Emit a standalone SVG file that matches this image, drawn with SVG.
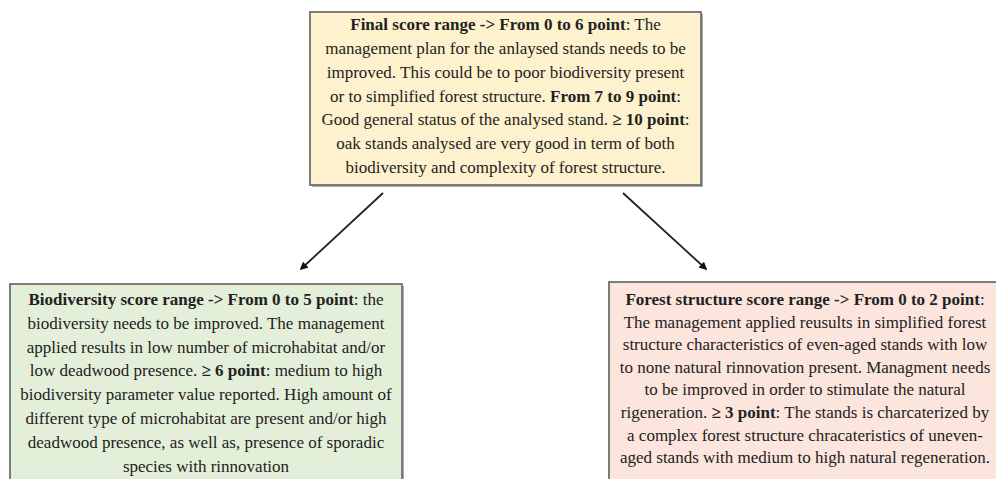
<svg xmlns="http://www.w3.org/2000/svg" width="996" height="479" viewBox="0 0 996 479">
  <style>
    .box { stroke: #707070; stroke-width: 1.8; }
    .shadow { fill: #a8a8a8; }
    .txt { font-family: "Liberation Serif", "Times New Roman", "DejaVu Serif", serif; font-size: 17px; fill: #222; text-anchor: middle; }
    .b { font-weight: bold; }
    .edge { stroke: #222; stroke-width: 1.8; fill: none; marker-end: url(#arrow); }
  </style>
  <defs>
    <marker id="arrow" viewBox="0 0 10 10" refX="8" refY="5" markerWidth="4.5" markerHeight="4.5" orient="auto" markerUnits="strokeWidth">
      <path d="M0,0 L10,5 L0,10 z" fill="#111"/>
    </marker>
  </defs>
  <rect width="996" height="479" fill="#ffffff"/>

  <!-- top summary node -->
  <g id="final-score">
    <rect class="shadow" x="312" y="14" width="391" height="173"/>
    <rect class="box" x="310" y="12" width="391" height="173" fill="#fdf2cd"/>
    <text class="txt" x="505.5" y="30"><tspan class="b">Final score range -&gt; From 0 to 6 point</tspan>: The</text>
    <text class="txt" x="505.5" y="54">management plan for the anlaysed stands needs to be</text>
    <text class="txt" x="505.5" y="78">improved. This could be to poor biodiversity present</text>
    <text class="txt" x="505.5" y="101.5">or to simplified forest structure. <tspan class="b">From 7 to 9 point</tspan>:</text>
    <text class="txt" x="505.5" y="125">Good general status of the analysed stand. <tspan class="b">≥ 10 point</tspan>:</text>
    <text class="txt" x="505.5" y="149">oak stands analysed are very good in term of both</text>
    <text class="txt" x="505.5" y="173">biodiversity and complexity of forest structure.</text>
  </g>

  <!-- biodiversity node -->
  <g id="biodiversity-score">
    <rect class="shadow" x="12" y="286" width="392" height="200"/>
    <rect class="box" x="10" y="284" width="392" height="200" fill="#e4efd9"/>
    <text class="txt" x="206" y="305"><tspan class="b">Biodiversity score range -&gt; From 0 to 5 point</tspan>: the</text>
    <text class="txt" x="206" y="328.8">biodiversity needs to be improved. The management</text>
    <text class="txt" x="206" y="352.6">applied results in low number of microhabitat and/or</text>
    <text class="txt" x="206" y="376.4">low deadwood presence. <tspan class="b">≥ 6 point</tspan>: medium to high</text>
    <text class="txt" x="206" y="400.2">biodiversity parameter value reported. High amount of</text>
    <text class="txt" x="206" y="424">different type of microhabitat are present and/or high</text>
    <text class="txt" x="206" y="447.8">deadwood presence, as well as, presence of sporadic</text>
    <text class="txt" x="206" y="471.6">species with rinnovation</text>
  </g>

  <!-- forest structure node -->
  <g id="forest-structure-score">
    <rect class="shadow" x="611" y="284" width="392" height="200"/>
    <rect class="box" x="609" y="282" width="392" height="200" fill="#fbe5dc"/>
    <text class="txt" x="805" y="305"><tspan class="b">Forest structure score range -&gt; From 0 to 2 point</tspan>:</text>
    <text class="txt" x="805" y="327.6">The management applied reusults in simplified forest</text>
    <text class="txt" x="805" y="350.2">structure characteristics of even-aged stands with low</text>
    <text class="txt" x="805" y="372.8">to none natural rinnovation present. Managment needs</text>
    <text class="txt" x="805" y="395.4">to be improved in order to stimulate the natural</text>
    <text class="txt" x="805" y="418">rigeneration. <tspan class="b">≥ 3 point</tspan>: The stands is charcaterized by</text>
    <text class="txt" x="805" y="440.6">a complex forest structure chracateristics of uneven-</text>
    <text class="txt" x="805" y="463.2">aged stands with medium to high natural regeneration.</text>
  </g>

  <!-- connectors -->
  <g id="connectors">
    <line class="edge" x1="383" y1="193" x2="301" y2="269"/>
    <line class="edge" x1="623" y1="193" x2="706" y2="269"/>
  </g>
</svg>
